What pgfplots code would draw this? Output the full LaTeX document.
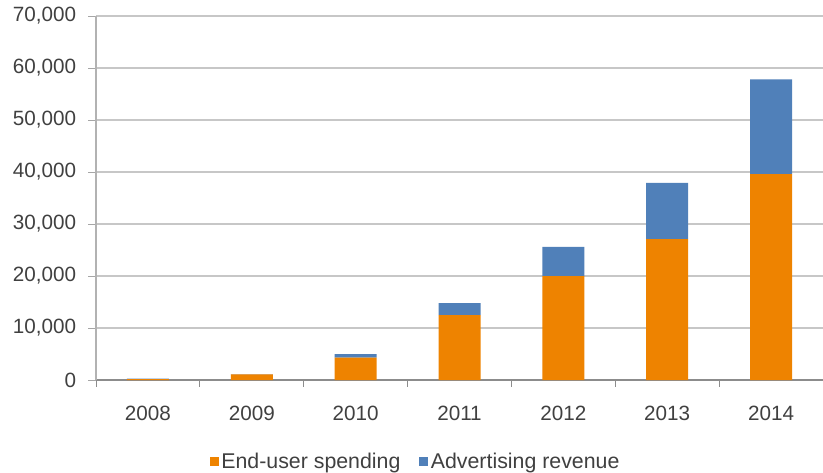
\documentclass[border=0pt]{standalone}
\usepackage{fontspec}
\setmainfont{Liberation Sans}
\usepackage{pgfplots}
\pgfplotsset{compat=1.18}
\definecolor{ora}{RGB}{238,131,0}
\definecolor{blu}{RGB}{80,128,185}
\definecolor{txt}{RGB}{64,64,64}
\begin{document}
\fontsize{15.5}{18}\selectfont
\begin{tikzpicture}[x=1pt,y=1pt]
\begin{axis}[
  at={(0,0)}, anchor=south west,
  scale only axis,
  width=545.25pt, height=273pt,
  ybar stacked,
  bar width=31.5pt,
  xmin=-0.5, xmax=6.5,
  ymin=0, ymax=70000,
  scaled y ticks=false,
  xtick={0,1,2,3,4,5,6},
  xticklabels={2008,2009,2010,2011,2012,2013,2014},
  minor xtick={-0.5,0.5,1.5,2.5,3.5,4.5,5.5,6.5},
  major x tick style={draw=none},
  minor x tick style={draw=black!45, line width=0.6pt},
  ytick={0,10000,20000,30000,40000,50000,60000,70000},
  y tick style={draw=black!35, line width=0.6pt},
  tick align=outside,
  major tick length=6pt,
  minor tick length=5pt,
  axis x line*=bottom,
  axis y line*=left,
  axis line style={draw=black!30, line width=0.8pt, -},
  x axis line style={draw=black!45},
  ymajorgrids,
  grid style={draw=black!22, line width=0.8pt},
  /pgf/number format/.cd, fixed, 1000 sep={,}, assume math mode=true,
  /pgfplots/.cd,
  ticklabel style={font=\fontsize{15.5}{18}\selectfont, text=txt},
  xticklabel style={yshift=-8pt},
  yticklabel style={xshift=-3.5pt},
  legend style={at={(0.44,-0.225)}, anchor=center, draw=none,
    font=\fontsize{16}{18}\selectfont, text=txt,
    /tikz/every even column/.append style={column sep=12pt},
    inner sep=0pt},
  legend columns=2,
  legend image code/.code={\fill[#1] (0pt,-3.4pt) rectangle (6.8pt,3.4pt);},
  legend cell align=left,
]
\addplot+[fill=ora, draw=none] coordinates {(0,150) (1,1100) (2,4300) (3,12500) (4,20000) (5,27100) (6,39600)};
\addplot+[fill=blu, draw=none] coordinates {(0,100) (1,50) (2,700) (3,2300) (4,5600) (5,10800) (6,18200)};
\legend{End-user spending, Advertising revenue}
\end{axis}
\pgfresetboundingbox
\path (-72pt,-69pt) rectangle (545.25pt,285pt);
\end{tikzpicture}
\end{document}
